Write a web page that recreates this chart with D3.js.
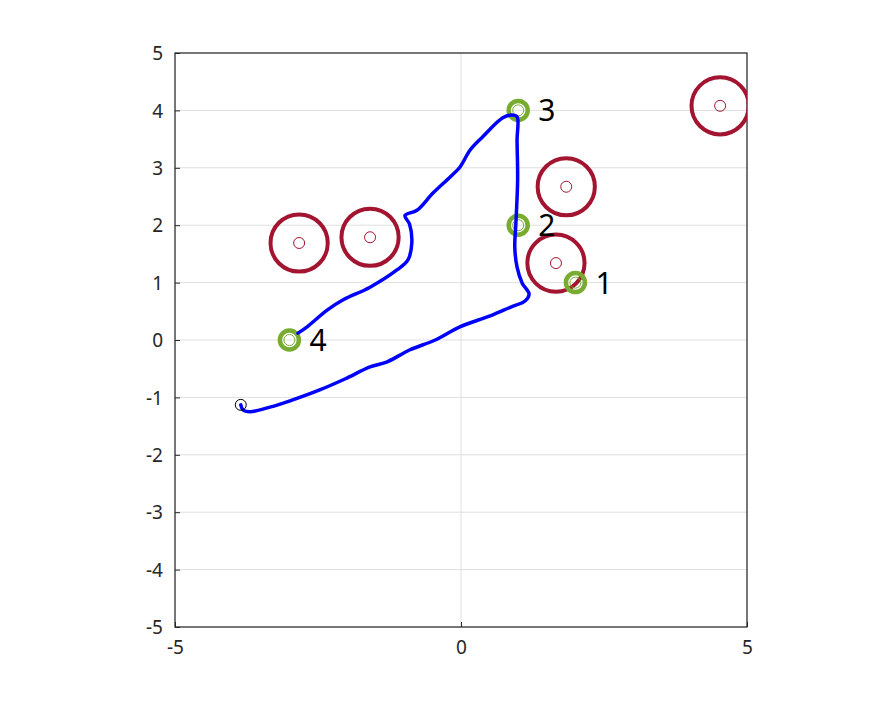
<!DOCTYPE html>
<html><head><meta charset="utf-8">
<script src="https://cdn.jsdelivr.net/npm/d3@7"></script>
<style>body{margin:0;background:#fff}svg{display:block}</style>
</head><body>
<script>
const xTicks = [-5, 0, 5];
const yTicks = [-5, -4, -3, -2, -1, 0, 1, 2, 3, 4, 5];
const waypointX = [2, 1, 1, -3];
const waypointY = [1, 2, 4, 0];
const waypointLabels = ["1", "2", "3", "4"];
const obstacleX = [-2.83, -1.59, 1.84, 1.66, 4.53];
const obstacleY = [1.69, 1.79, 2.67, 1.34, 4.08];
const obstacleR = [0.5, 0.5, 0.5, 0.5, 0.5];
const startX = [-3.85];
const startY = [-1.13];
const pathX = [-3.85,-3.81,-3.69,-3.34,-2.99,-2.47,-2.03,-1.59,-1.29,-0.89,-0.45,-0.02,0.51,0.86,1.12,1.19,1.07,0.98,0.94,0.96,0.99,0.98,0.98,0.89,0.73,0.38,0.16,-0.02,-0.19,-0.49,-0.77,-0.98,-0.90,-0.86,-0.93,-1.12,-1.59,-2.06,-2.34,-2.69,-2.85];
const pathY = [-1.13,-1.22,-1.25,-1.17,-1.06,-0.87,-0.68,-0.47,-0.38,-0.17,0.0,0.23,0.42,0.57,0.68,0.80,0.99,1.27,1.62,2.04,2.79,3.48,3.89,3.92,3.87,3.54,3.31,3.01,2.84,2.56,2.26,2.17,2.02,1.69,1.39,1.22,0.92,0.70,0.52,0.23,0.12];

const W = 891, H = 703;
const L = 175, R = 747, T = 53, B = 627;
const svg = d3.select("body").append("svg").attr("width", W).attr("height", H);
const x = d3.scaleLinear().domain([-5, 5]).range([L, R]);
const y = d3.scaleLinear().domain([-5, 5]).range([B, T]);
const font = "'Noto Sans', 'Open Sans', sans-serif";
const axisColor = "#262626";

svg.append("defs").append("clipPath").attr("id", "clip")
  .append("rect").attr("x", L).attr("y", T).attr("width", R - L).attr("height", B - T);

// grid
const grid = svg.append("g");
grid.selectAll("line.gx").data(xTicks).join("line")
  .attr("x1", d => x(d)).attr("x2", d => x(d)).attr("y1", T).attr("y2", B)
  .attr("stroke", "#dfdfdf").attr("stroke-width", 1);
grid.selectAll("line.gy").data(yTicks).join("line")
  .attr("x1", L).attr("x2", R).attr("y1", d => y(d)).attr("y2", d => y(d))
  .attr("stroke", "#dfdfdf").attr("stroke-width", 1);

// axes
const fmt = d => String(d);
const xAxis = d3.axisBottom(x).tickValues(xTicks).tickFormat(fmt).tickSizeInner(-5).tickSizeOuter(0).tickPadding(14);
const yAxis = d3.axisLeft(y).tickValues(yTicks).tickFormat(fmt).tickSizeInner(-5).tickSizeOuter(0).tickPadding(12);
const gx = svg.append("g").attr("transform", `translate(0,${B})`).call(xAxis);
const gy = svg.append("g").attr("transform", `translate(${L},0)`).call(yAxis);
[gx, gy].forEach(g => {
  g.select(".domain").remove();
  g.selectAll(".tick line").attr("stroke", axisColor);
  g.selectAll("text").attr("fill", axisColor).style("font-family", font).style("font-size", "19px");
});
gy.selectAll("text").attr("dy", "0.35em");
svg.append("rect").attr("x", L).attr("y", T).attr("width", R - L).attr("height", B - T)
  .attr("fill", "none").attr("stroke", axisColor).attr("stroke-width", 1.2);

const plot = svg.append("g").attr("clip-path", "url(#clip)");
const red = "#A2142F", green = "#77AC30";

// obstacles
const obs = obstacleX.map((d, i) => ({x: d, y: obstacleY[i], r: obstacleR[i]}));
plot.selectAll("circle.ob").data(obs).join("circle")
  .attr("cx", d => x(d.x)).attr("cy", d => y(d.y)).attr("r", d => x(d.r) - x(0))
  .attr("fill", "none").attr("stroke", red).attr("stroke-width", 4);
plot.selectAll("circle.oc").data(obs).join("circle")
  .attr("cx", d => x(d.x)).attr("cy", d => y(d.y)).attr("r", 5.5)
  .attr("fill", "none").attr("stroke", red).attr("stroke-width", 1);

// waypoints
const wps = waypointX.map((d, i) => ({x: d, y: waypointY[i], label: waypointLabels[i]}));
plot.selectAll("circle.wo").data(wps).join("circle")
  .attr("cx", d => x(d.x)).attr("cy", d => y(d.y)).attr("r", 9.5)
  .attr("fill", "none").attr("stroke", green).attr("stroke-width", 4.5);
plot.selectAll("circle.wi").data(wps).join("circle")
  .attr("cx", d => x(d.x)).attr("cy", d => y(d.y)).attr("r", 5.5)
  .attr("fill", "none").attr("stroke", green).attr("stroke-width", 1);

// path
const pts = pathX.map((d, i) => [d, pathY[i]]);
plot.append("path").datum(pts)
  .attr("d", d3.line().x(d => x(d[0])).y(d => y(d[1])).curve(d3.curveCatmullRom.alpha(0.5)))
  .attr("fill", "none").attr("stroke", "#0000FF").attr("stroke-width", 3.5)
  .attr("stroke-linejoin", "round").attr("stroke-linecap", "round");

// start
plot.selectAll("circle.st").data(startX.map((d, i) => ({x: d, y: startY[i]}))).join("circle")
  .attr("cx", d => x(d.x)).attr("cy", d => y(d.y)).attr("r", 5.5)
  .attr("fill", "none").attr("stroke", "#000").attr("stroke-width", 1);

// labels
svg.selectAll("text.wl").data(wps).join("text")
  .attr("x", d => x(d.x) + 20).attr("y", d => y(d.y) + 3)
  .attr("dominant-baseline", "middle")
  .style("font-family", font).style("font-size", "30px").attr("fill", "#000")
  .text(d => d.label);
</script>
</body></html>
